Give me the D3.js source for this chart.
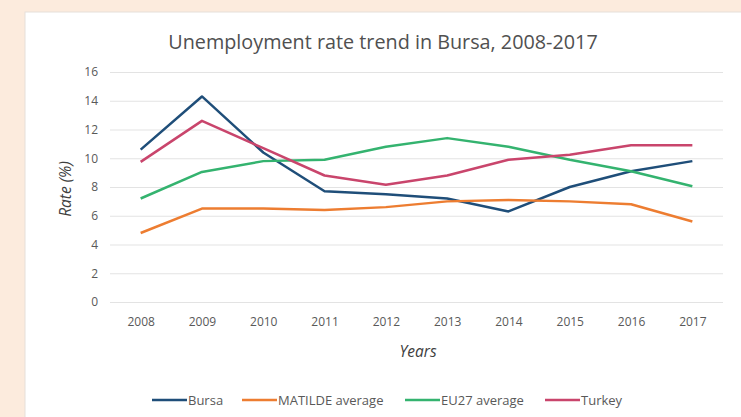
<!DOCTYPE html>
<html lang="en">
<head>
    <meta charset="UTF-8">
    <title>Unemployment rate trend in Bursa, 2008-2017</title>
    <script src="https://d3js.org/d3.v7.min.js"></script>
    <style>
        body {
            margin: 0;
            background-color: #fcebdd;
        }
        .tick text {
            font-family: "Open Sans", sans-serif;
            font-size: 12px;
            fill: #595959;
        }
        .grid line {
            stroke: #e3e3e3;
            stroke-width: 1px;
        }
        .series {
            fill: none;
            stroke-width: 2.5px;
            stroke-linejoin: round;
        }
    </style>
</head>
<body>
    <svg id="chart" width="741" height="417"></svg>
    <script>
        // Values
        const years = ["2008", "2009", "2010", "2011", "2012", "2013", "2014", "2015", "2016", "2017"];
        const bursa = [10.6, 14.3, 10.4, 7.7, 7.5, 7.2, 6.3, 8.0, 9.1, 9.8];
        const matilde = [4.8, 6.5, 6.5, 6.4, 6.6, 7.0, 7.1, 7.0, 6.8, 5.6];
        const eu27 = [7.2, 9.05, 9.8, 9.9, 10.8, 11.4, 10.8, 9.9, 9.1, 8.05];
        const turkey = [9.75, 12.6, 10.7, 8.8, 8.15, 8.8, 9.9, 10.25, 10.9, 10.9];
        const yTicks = [0, 2, 4, 6, 8, 10, 12, 14, 16];

        const series = [
            { name: "Bursa", values: bursa, color: "#1f4e79" },
            { name: "MATILDE average", values: matilde, color: "#ed7d31" },
            { name: "EU27 average", values: eu27, color: "#34b36f" },
            { name: "Turkey", values: turkey, color: "#c9456c" }
        ];

        const svg = d3.select("#chart");

        // white panel
        svg.append("rect")
            .attr("x", 25).attr("y", 12)
            .attr("width", 730).attr("height", 420)
            .attr("fill", "#fff")
            .attr("stroke", "#e6e0da");

        const x = d3.scalePoint().domain(years).range([110, 723]).padding(0.5);
        const y = d3.scaleLinear().domain([0, 16]).range([302, 72]);

        // gridlines
        svg.append("g")
            .attr("class", "grid")
            .attr("transform", "translate(110,0)")
            .call(d3.axisLeft(y).tickValues(yTicks).tickSize(-613).tickFormat(""))
            .call(g => g.select(".domain").remove());

        svg.append("g")
            .attr("transform", "translate(98,0)")
            .call(d3.axisLeft(y).tickValues(yTicks).tickSize(0).tickPadding(0))
            .call(g => g.select(".domain").remove());

        svg.append("g")
            .attr("transform", "translate(0,302)")
            .call(d3.axisBottom(x).tickSize(0).tickPadding(15))
            .call(g => g.select(".domain").remove());

        const line = d3.line()
            .x((d, i) => x(years[i]))
            .y(d => y(d));

        svg.selectAll(".series")
            .data(series)
            .enter()
            .append("path")
            .attr("class", "series")
            .attr("stroke", d => d.color)
            .attr("d", d => line(d.values));

        // title and axis titles
        svg.append("text")
            .attr("x", 383).attr("y", 49)
            .attr("text-anchor", "middle")
            .attr("font-family", "Open Sans, sans-serif")
            .attr("font-size", 19.8)
            .attr("fill", "#505050")
            .text("Unemployment rate trend in Bursa, 2008-2017");

        svg.append("text")
            .attr("transform", "translate(71,189) rotate(-90)")
            .attr("text-anchor", "middle")
            .attr("font-family", "Open Sans, sans-serif")
            .attr("font-style", "italic")
            .attr("font-size", 15.5)
            .attr("fill", "#404040")
            .text("Rate (%)");

        svg.append("text")
            .attr("x", 418).attr("y", 357)
            .attr("text-anchor", "middle")
            .attr("font-family", "Open Sans, sans-serif")
            .attr("font-style", "italic")
            .attr("font-size", 15.5)
            .attr("fill", "#404040")
            .text("Years");

        // legend
        const legendX = [152, 242, 405, 545];
        const legend = svg.selectAll(".legend")
            .data(series)
            .enter()
            .append("g")
            .attr("class", "legend")
            .attr("transform", (d, i) => `translate(${legendX[i]},400)`);

        legend.append("line")
            .attr("x1", 0).attr("x2", 35)
            .attr("stroke", d => d.color)
            .attr("stroke-width", 2.5);

        legend.append("text")
            .attr("x", 36).attr("y", 4.5)
            .attr("font-family", "Open Sans, sans-serif")
            .attr("font-size", 13)
            .attr("fill", "#595959")
            .text(d => d.name);
    </script>
</body>
</html>
